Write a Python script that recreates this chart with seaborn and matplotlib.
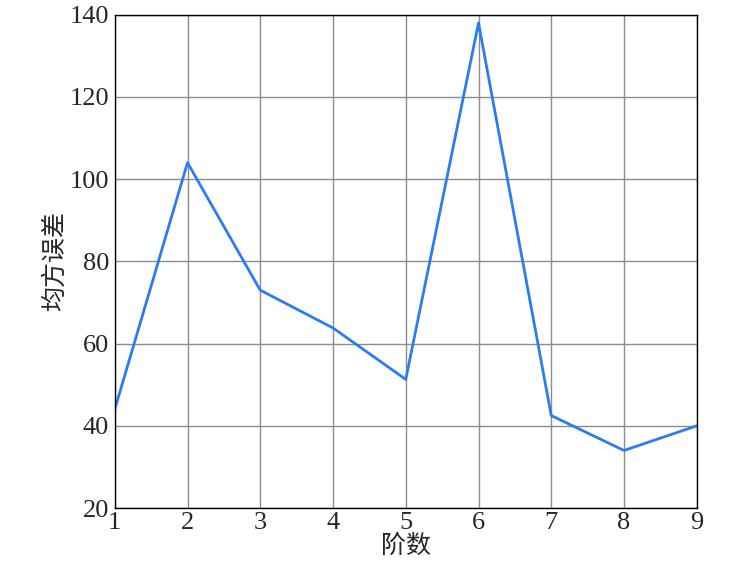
import matplotlib
matplotlib.use('Agg')
import seaborn as sns
import matplotlib.pyplot as plt
import pandas as pd

orders = [1, 2, 3, 4, 5, 6, 7, 8, 9]
mse = [44, 104, 73, 63.8, 51.3, 138, 42.5, 34, 40]
yticks = [20, 40, 60, 80, 100, 120, 140]

df = pd.DataFrame({'order': orders, 'mse': mse})

sns.set_style('white')
plt.rcParams['font.family'] = ['Liberation Serif', 'Noto Sans CJK SC']
plt.rcParams['axes.unicode_minus'] = False

fig = plt.figure(figsize=(7.5, 5.67), dpi=100)
ax = fig.add_axes([0.153, 0.104, 0.776, 0.870])

sns.lineplot(data=df, x='order', y='mse', color='#2a7df0', linewidth=2, ax=ax)

ax.set_xlim(1, 9)
ax.set_ylim(20, 140)
ax.set_xticks(orders)
ax.set_yticks(yticks)
ax.grid(True, color='#8c8c8c', linewidth=1)
ax.tick_params(axis='x', direction='in', length=5, labelsize=19, color='black', pad=3)
ax.tick_params(axis='y', direction='in', length=5, labelsize=19, color='black', pad=4)
for s in ax.spines.values():
    s.set_color('black')
    s.set_linewidth(1)
ax.set_xlabel('阶数', fontsize=18, labelpad=0)
ax.set_ylabel('均方误差', fontsize=18, labelpad=2)

fig.savefig('out.png', dpi=100)
